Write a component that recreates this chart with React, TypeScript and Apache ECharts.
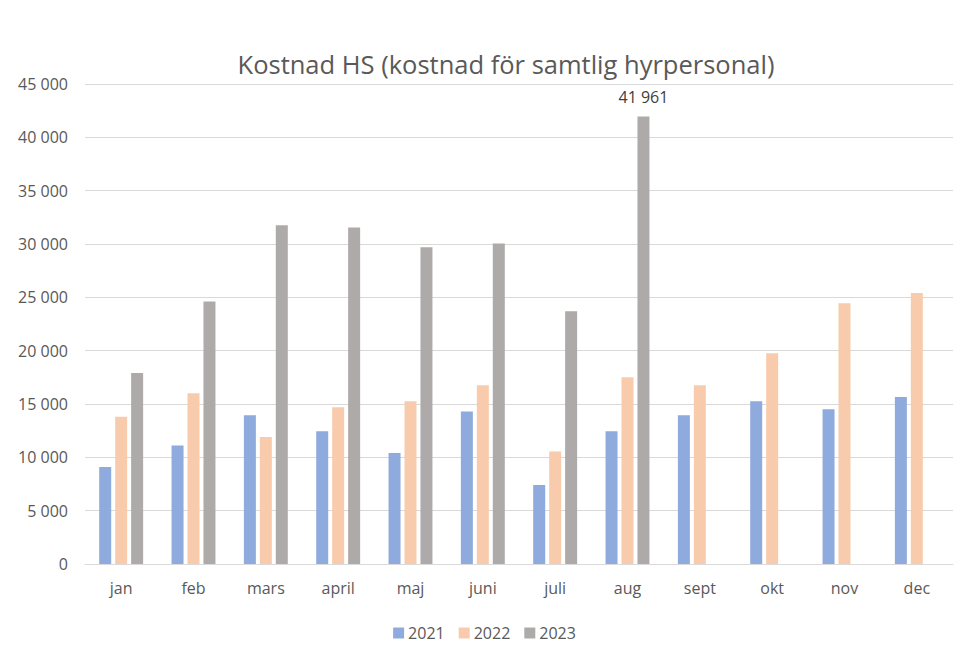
import React, { useEffect, useRef } from "react";
import * as echarts from "echarts";

const months = ["jan", "feb", "mars", "april", "maj", "juni", "juli", "aug", "sept", "okt", "nov", "dec"];
const years = ["2021", "2022", "2023"];
const values2021 = [9100, 11100, 13950, 12450, 10400, 14300, 7400, 12450, 13950, 15250, 14500, 15650];
const values2022 = [13800, 16000, 11900, 14700, 15250, 16750, 10550, 17500, 16750, 19750, 24450, 25400];
const values2023: (number | null)[] = [17900, 24600, 31750, 31550, 29700, 30050, 23700, 41961, null, null, null, null];
const labelledIndex = 7;
const yTicks = { min: 0, max: 45000, interval: 5000 };
const colors = ["#8FAADC", "#F8CBAD", "#AEAAAA"];

const fmt = (v: number) => String(Math.round(v)).replace(/\B(?=(\d{3})+(?!\d))/g, " ");

export default function App() {
  const ref = useRef<HTMLDivElement>(null);
  useEffect(() => {
    if (!ref.current) return;
    const chart = echarts.init(ref.current, undefined, { renderer: "svg" });
    const font = "'Open Sans', 'Noto Sans', sans-serif";
    const seriesData = [values2021, values2022, values2023];
    chart.setOption({
      animation: false,
      backgroundColor: "#ffffff",
      textStyle: { fontFamily: font },
      title: {
        text: "Kostnad HS (kostnad för samtlig hyrpersonal)",
        left: 501,
        textAlign: "center",
        top: 46,
        textStyle: { fontSize: 25.5, fontWeight: "normal", color: "#595959", fontFamily: font },
      },
      legend: {
        data: years,
        top: 620,
        left: "center",
        itemWidth: 11,
        itemHeight: 11,
        itemGap: 14,
        icon: "rect",
        textStyle: { fontSize: 16, color: "#595959", fontFamily: font, padding: [0, 0, 0, -1] },
      },
      grid: { left: 85, right: 16, top: 84, bottom: 94, containLabel: false },
      xAxis: {
        type: "category",
        data: months,
        axisLine: { lineStyle: { color: "#d9d9d9", width: 1 } },
        axisTick: { show: false },
        axisLabel: { color: "#595959", fontSize: 16, margin: 16, fontFamily: font },
      },
      yAxis: {
        type: "value",
        min: yTicks.min,
        max: yTicks.max,
        interval: yTicks.interval,
        axisLine: { show: false },
        axisTick: { show: false },
        splitLine: { lineStyle: { color: "#d9d9d9", width: 1 } },
        axisLabel: { color: "#595959", fontSize: 16, margin: 17, formatter: (v: number) => fmt(v), fontFamily: font },
      },
      series: years.map((y, i) => ({
        name: y,
        type: "bar",
        data: seriesData[i].map((v, j) =>
          i === 2 && j === labelledIndex
            ? {
                value: v,
                label: {
                  show: true,
                  position: "top",
                  distance: 11,
                  formatter: (p: any) => fmt(p.value),
                  color: "#404040",
                  fontSize: 16,
                  fontFamily: font,
                },
              }
            : v
        ),
        itemStyle: { color: colors[i] },
        barWidth: 12,
        barGap: "33%",
        barCategoryGap: "39%",
      })),
    });
    return () => chart.dispose();
  }, []);
  return <div ref={ref} style={{ position: "fixed", left: 0, top: 0, width: 969, height: 658 }} />;
}
